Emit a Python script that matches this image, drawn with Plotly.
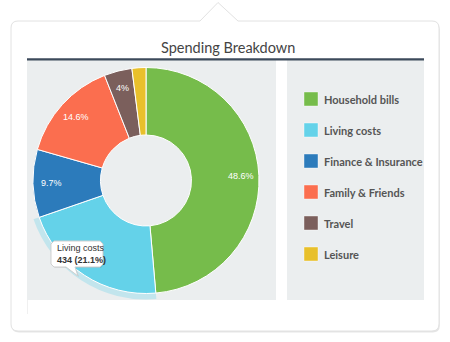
import math
import plotly.graph_objects as go

# ---------------- data ----------------
categories = ["Household bills", "Living costs", "Finance & Insurance",
              "Family & Friends", "Travel", "Leisure"]
values = [1000, 434, 200, 300, 82, 41]
colors = ["#76bc4b", "#64d2e9", "#2c7bbb", "#fb6e4f", "#7b5f5c", "#e8c02b"]
title_text = "Spending Breakdown"
highlight = "Living costs"

# ---------------- geometry helpers (layout only) ----------------
W, H = 450, 342


def X(p):
    return p / W


def Y(p):
    return 1 - p / H


def path(points, close=True):
    s = "M " + " L ".join(f"{X(a):.5f},{Y(b):.5f}" for a, b in points)
    return s + (" Z" if close else "")


def card_path(x0, y0, x1, y1, r, ax0, ax1, tipx, tipy, dx=0, dy=0):
    x0 += dx; x1 += dx; y0 += dy; y1 += dy; ax0 += dx; ax1 += dx; tipx += dx; tipy += dy
    return (f"M {X(x0+r)},{Y(y0)} L {X(ax0)},{Y(y0)} L {X(tipx)},{Y(tipy)} L {X(ax1)},{Y(y0)} "
            f"L {X(x1-r)},{Y(y0)} Q {X(x1)},{Y(y0)} {X(x1)},{Y(y0+r)} "
            f"L {X(x1)},{Y(y1-r)} Q {X(x1)},{Y(y1)} {X(x1-r)},{Y(y1)} "
            f"L {X(x0+r)},{Y(y1)} Q {X(x0)},{Y(y1)} {X(x0)},{Y(y1-r)} "
            f"L {X(x0)},{Y(y0+r)} Q {X(x0)},{Y(y0)} {X(x0+r)},{Y(y0)} Z")


cx, cy, R, r_in, halo = 146, 180.5, 113, 45.5, 6

total = sum(values)
pcts = [v / total * 100 for v in values]


def fmt(p):
    s = f"{p:.1f}"
    return s[:-2] if s.endswith(".0") else s


def dom(rad):
    return dict(x=[X(cx - rad), X(cx + rad)], y=[Y(cy + rad), Y(cy - rad)])


fig = go.Figure()

# halo around the highlighted slice
halo_colors = ["rgba(100,210,233,0.30)" if c == highlight else "rgba(0,0,0,0)" for c in categories]
fig.add_trace(go.Pie(labels=categories, values=values, domain=dom(R + halo),
                     hole=R / (R + halo), sort=False, direction="clockwise", rotation=0,
                     marker=dict(colors=halo_colors, line=dict(width=0)),
                     textinfo="none", hoverinfo="skip", showlegend=False))

# main donut
fig.add_trace(go.Pie(labels=categories, values=values, domain=dom(R),
                     hole=r_in / R, sort=False, direction="clockwise", rotation=0,
                     marker=dict(colors=colors, line=dict(color="white", width=1)),
                     textinfo="none", hoverinfo="skip", showlegend=False))

shapes = []
# card shadow + card
shapes.append(dict(type="path", xref="paper", yref="paper", layer="below",
                   path=card_path(11, 21, 439, 331, 7, 200, 238, 218, 2.5, dx=0.8, dy=1.5),
                   fillcolor="rgba(0,0,0,0.10)", line=dict(width=0)))
shapes.append(dict(type="path", xref="paper", yref="paper", layer="below",
                   path=card_path(11, 21, 439, 331, 7, 200, 238, 218, 2.5),
                   fillcolor="white", line=dict(color="#e2e2e2", width=1)))
# panels
shapes.append(dict(type="rect", xref="paper", yref="paper", layer="below",
                   x0=X(27), x1=X(276), y0=Y(300), y1=Y(60),
                   fillcolor="#ebeeef", line=dict(width=0)))
shapes.append(dict(type="rect", xref="paper", yref="paper", layer="below",
                   x0=X(287), x1=X(424), y0=Y(300), y1=Y(60),
                   fillcolor="#ebeeef", line=dict(width=0)))
# title underline
shapes.append(dict(type="rect", xref="paper", yref="paper", layer="below",
                   x0=X(27), x1=X(424), y0=Y(60.5), y1=Y(58.3),
                   fillcolor="#3c4a5b", line=dict(width=0)))
# faint line below left panel
shapes.append(dict(type="line", xref="paper", yref="paper", layer="below",
                   x0=X(27.5), x1=X(27.5), y0=Y(300), y1=Y(314),
                   line=dict(color="#f0f0f0", width=1)))

# legend (manual, built from categories/colors)
for i, (cat, col) in enumerate(zip(categories, colors)):
    yc = 99 + i * 31
    shapes.append(dict(type="rect", xref="paper", yref="paper", layer="above",
                       x0=X(304), x1=X(318), y0=Y(yc + 7), y1=Y(yc - 7),
                       fillcolor=col, line=dict(color="rgba(255,255,255,0.4)", width=1)))
    fig.add_annotation(x=X(321.5), y=Y(yc + 0.5), xref="paper", yref="paper",
                       text=f"<b>{cat}</b>", showarrow=False, xanchor="left", yanchor="middle",
                       font=dict(family="Lato", size=11, color="#555555"))

# data labels (the highlighted slice's label is hidden under its tooltip)
cum = 0
for cat, v, p in zip(categories, values, pcts):
    mid = (cum + v / 2) / total * 2 * math.pi
    cum += v
    if p < 3 or cat == highlight:
        continue
    lx = cx + 95 * math.sin(mid)
    ly = cy - 95 * math.cos(mid)
    fig.add_annotation(x=X(lx), y=Y(ly), xref="paper", yref="paper", text=fmt(p) + "%",
                       showarrow=False, xanchor="center", yanchor="middle",
                       font=dict(family="Liberation Sans, Arial", size=9, color="white"))

# tooltip callout
tip_pts = [(54, 241), (100, 241), (103, 244), (103, 264), (100, 267), (75, 267), (78, 276),
           (66, 267), (54, 267), (51, 264), (51, 244)]
shapes.append(dict(type="path", xref="paper", yref="paper", layer="above",
                   path=path([(a + 1, b + 1) for a, b in tip_pts]),
                   fillcolor="rgba(0,0,0,0.08)", line=dict(width=0)))
shapes.append(dict(type="path", xref="paper", yref="paper", layer="above",
                   path=path(tip_pts), fillcolor="white", line=dict(color="#cfcfcf", width=1)))
hi = categories.index(highlight)
fig.add_annotation(x=X(55), y=Y(254.5), xref="paper", yref="paper",
                   text=f"{highlight}<br><b>{values[hi]} ({pcts[hi]:.1f}%)</b>",
                   showarrow=False, xanchor="left", yanchor="middle", align="left",
                   font=dict(family="Liberation Sans, Arial", size=9, color="#333333"))

# title
fig.add_annotation(x=X(228), y=Y(47.5), xref="paper", yref="paper", text=title_text,
                   showarrow=False, xanchor="center", yanchor="middle",
                   font=dict(family="Lato", size=14.5, color="#444444"))

fig.update_layout(width=W, height=H, margin=dict(l=0, r=0, t=0, b=0),
                  paper_bgcolor="white", plot_bgcolor="white", shapes=shapes,
                  showlegend=False)

fig.write_html("out.html")
